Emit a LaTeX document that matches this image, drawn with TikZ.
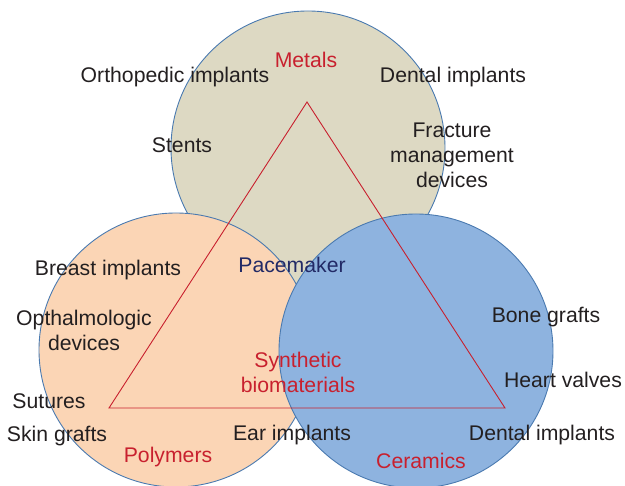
\documentclass[tikz,border=0pt]{standalone}
\usepackage{fontspec}
\setmainfont{Liberation Sans}
\definecolor{metalfill}{HTML}{DDD9C3}
\definecolor{polyfill}{HTML}{FBD5B5}
\definecolor{ceramfill}{HTML}{8EB3DF}
\definecolor{ringblue}{HTML}{4A7AB0}
\definecolor{classred}{HTML}{C8202E}
\definecolor{navytext}{HTML}{222A66}
\definecolor{usetext}{HTML}{231F20}

\begin{document}
\begin{tikzpicture}[x=1pt,y=-1pt,font=\fontsize{21.2}{25}\selectfont,
  ring/.style={draw=ringblue,line width=0.9pt},
  cls/.style={text=classred,inner sep=0pt},
  use/.style={text=usetext,inner sep=0pt,align=center}]
 \useasboundingbox (0,0) rectangle (625,486);
 % the three material circles
 \draw[ring,fill=metalfill] (308,148) circle (137);
 \draw[ring,fill=polyfill] (176,350) circle (137);
 \draw[ring,fill=ceramfill] (416,351) circle (137);
 % triangle between the classes
 \coordinate (metV) at (307,102);
 \coordinate (polV) at (109,408);
 \coordinate (cerV) at (505,408);
 \draw[classred,line width=0.9pt,line join=miter] (metV)--(polV)--(cerV)--cycle;
 % class names
 \node[cls] (metals) at (306,60) {Metals};
 \node[cls] (polymers) at (168,457) {Polymers};
 \node[cls] (ceramics) at (421,461) {Ceramics};
 \node[cls,align=center] (synth) at (298,372) {Synthetic\\biomaterials};
 % uses
 \node[use] (ortho) at (175,77) {Orthopedic implants};
 \node[use] (dentTop) at (453,77) {Dental implants};
 \node[use] (stents) at (182,145) {Stents};
 \node[use] (fract) at (452,155) {Fracture\\management\\devices};
 \node[use,text=navytext] (pace) at (292,265) {Pacemaker};
 \node[use] (breast) at (108,270) {Breast implants};
 \node[use] (opth) at (84,330) {Opthalmologic\\devices};
 \node[use] (bone) at (546,317) {Bone grafts};
 \node[use] (heart) at (563,380) {Heart valves};
 \node[use] (sutures) at (49,401) {Sutures};
 \node[use] (skin) at (57,436) {Skin grafts};
 \node[use] (ear) at (292,435) {Ear implants};
 \node[use] (dentBot) at (542,435) {Dental implants};
\end{tikzpicture}
\end{document}
